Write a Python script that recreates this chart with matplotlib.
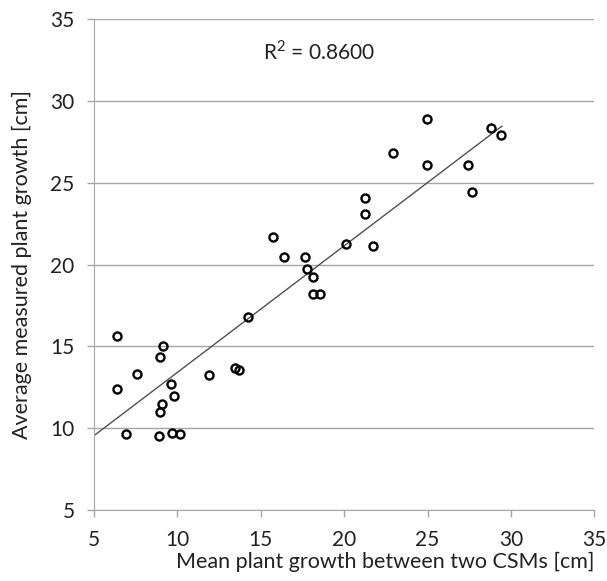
import numpy as np
import matplotlib
matplotlib.use("Agg")
import matplotlib.pyplot as plt

# mean plant growth between two CSMs [cm] vs average measured growth [cm]
mean_csm = [6.36, 9.15, 8.95, 7.6, 9.61, 6.38, 9.77, 9.07, 8.97, 6.9, 8.91, 9.67, 10.15,
            11.92, 13.48, 13.72, 14.24, 15.72, 16.38, 17.63, 17.79, 18.15, 18.13, 18.57,
            20.09, 21.71, 21.26, 21.26, 22.94, 24.94, 27.43, 27.65, 24.94, 28.79, 29.43]
measured = [15.62, 15.04, 14.33, 13.33, 12.7, 12.4, 11.99, 11.46, 10.97, 9.65, 9.51, 9.73, 9.67,
            13.25, 13.66, 13.56, 16.78, 21.68, 20.46, 20.46, 19.75, 19.22, 18.18, 18.18,
            21.24, 21.15, 24.05, 23.07, 26.85, 26.1, 26.1, 24.45, 28.87, 28.32, 27.91]

# linear trendline as drawn in the source chart
trend_range = [5, 29.45]
trend_slope = 0.773
trend_icpt = 5.69
r2_text = "R$^2$ = 0.8600"

plt.rcParams["font.family"] = ["Lato", "DejaVu Sans"]
plt.rcParams["mathtext.fontset"] = "custom"
plt.rcParams["mathtext.rm"] = "Lato"
GRID = "#a6a6a6"
TXT = "#222222"

fig = plt.figure(figsize=(6.07, 5.81), dpi=100)
ax = fig.add_axes([0.155, 0.122, 0.824, 0.845])

ax.plot(mean_csm, measured, ls="none", marker="o", markersize=5.8,
        markerfacecolor="none", markeredgecolor="black", markeredgewidth=1.7, zorder=3)

tx = np.array(trend_range)
ax.plot(tx, trend_slope * tx + trend_icpt, color="#505050", lw=1.0, zorder=2)

ax.set_xlim(5, 35)
ax.set_ylim(5, 35)
ax.set_xticks(range(5, 36, 5))
ax.set_yticks(range(5, 36, 5))
ax.yaxis.grid(True, color=GRID, lw=1.0)
ax.set_axisbelow(True)
for s in ["top", "right"]:
    ax.spines[s].set_visible(False)
for s in ["left", "bottom"]:
    ax.spines[s].set_color(GRID)
ax.tick_params(axis="both", colors=GRID, length=5, width=1.0, labelsize=15,
               labelcolor=TXT)
ax.tick_params(axis="y", pad=9)
ax.tick_params(axis="x", pad=9)

ax.text(18.5, 33.0, r2_text, fontsize=15, ha="center", va="center", color=TXT)

ax.set_xlabel("Mean plant growth between two CSMs [cm]", fontsize=15.5, loc="right",
              color=TXT, labelpad=2)
ax.set_ylabel("Average measured plant growth [cm]", fontsize=15.5, color=TXT, labelpad=13)

fig.savefig("out.png", dpi=100)
